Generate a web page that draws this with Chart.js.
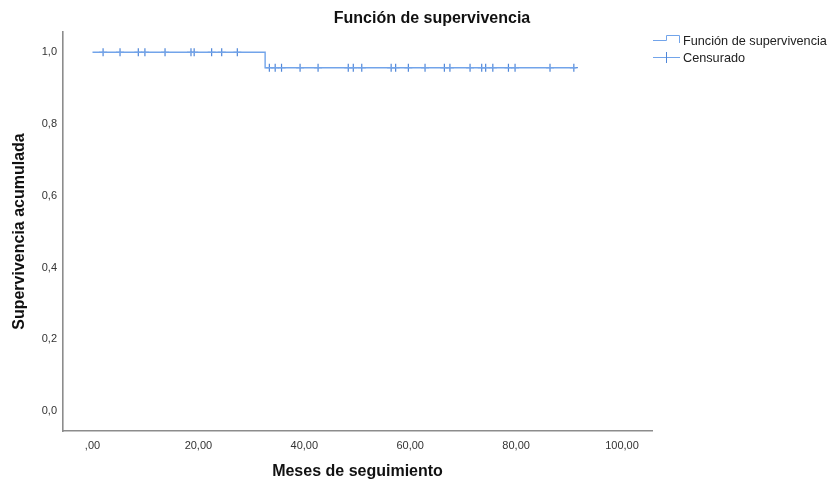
<!DOCTYPE html>
<html>
<head>
<meta charset="utf-8">
<script src="https://cdn.jsdelivr.net/npm/chart.js@4.4.1/dist/chart.umd.min.js"></script>
<style>
  html, body { margin: 0; padding: 0; background: #fff; }
  canvas { display: block; }
</style>
</head>
<body>
<canvas id="chart" width="832" height="483"></canvas>
<script>
// Kaplan-Meier step curve
const stepTimes = [0, 32.6, 91.4];
const stepSurvival = [1.0, 0.957, 0.957];

// censored cases
const censoredTop = [2.0, 5.2, 8.65, 9.9, 13.7, 18.6, 19.2, 22.5, 24.4, 27.35];
const censoredBottom = [33.4, 34.5, 35.7, 39.2, 42.6, 48.3, 49.25, 50.85, 56.4, 57.25,
  59.65, 62.8, 66.45, 67.5, 71.3, 73.5, 74.25, 75.6, 78.55, 79.8, 86.4, 90.9];

const xTicks = [0, 20, 40, 60, 80, 100];
const yTicks = [0, 0.2, 0.4, 0.6, 0.8, 1.0];

const lineColor = '#72a4ea';
const censorColor = '#4f86d8';
const font = "'Liberation Sans', Arial, sans-serif";

const survivalAt = (t) => {
  let s = stepSurvival[0];
  for (let i = 0; i < stepTimes.length; i++) if (t >= stepTimes[i]) s = stepSurvival[i];
  return s;
};

const stepData = stepTimes.map((t, i) => ({ x: t, y: stepSurvival[i] }));
const censorData = censoredTop.concat(censoredBottom).map(t => ({ x: t, y: survivalAt(t) }));

const decorPlugin = {
  id: 'decor',
  afterDraw(chart) {
    const ctx = chart.ctx;
    ctx.save();
    // title
    ctx.fillStyle = '#111';
    ctx.font = `bold 16px ${font}`;
    ctx.textAlign = 'center';
    ctx.textBaseline = 'middle';
    ctx.fillText('Función de supervivencia', 432, 19);

    // legend
    ctx.font = `12.7px ${font}`;
    ctx.textAlign = 'left';
    ctx.fillStyle = '#222';
    ctx.fillText('Función de supervivencia', 683, 41);
    ctx.fillText('Censurado', 683, 58);

    ctx.strokeStyle = lineColor;
    ctx.lineWidth = 1;
    ctx.beginPath();
    ctx.moveTo(653, 40.5);
    ctx.lineTo(666.5, 40.5);
    ctx.lineTo(666.5, 35.5);
    ctx.lineTo(679.5, 35.5);
    ctx.lineTo(679.5, 43);
    ctx.stroke();

    ctx.beginPath();
    ctx.moveTo(653, 57.5);
    ctx.lineTo(680, 57.5);
    ctx.stroke();
    ctx.strokeStyle = censorColor;
    ctx.beginPath();
    ctx.moveTo(666.5, 52);
    ctx.lineTo(666.5, 63);
    ctx.stroke();
    ctx.restore();
  }
};

new Chart(document.getElementById('chart'), {
  type: 'line',
  data: {
    datasets: [
      {
        label: 'Función de supervivencia',
        data: stepData,
        stepped: 'before',
        borderColor: lineColor,
        borderWidth: 1.4,
        pointRadius: 0,
        fill: false
      },
      {
        label: 'Censurado',
        type: 'scatter',
        data: censorData,
        pointStyle: 'cross',
        pointRadius: 4,
        borderColor: censorColor,
        borderWidth: 1.2,
        showLine: false
      }
    ]
  },
  options: {
    responsive: false,
    animation: false,
    layout: { padding: { top: 32, right: 180, left: 0, bottom: 0 } },
    plugins: {
      legend: { display: false },
      tooltip: { enabled: false },
      title: { display: false }
    },
    scales: {
      x: {
        type: 'linear',
        min: -5.57,
        max: 105.66,
        afterBuildTicks: (axis) => { axis.ticks = xTicks.map(v => ({ value: v })); },
        afterFit: (axis) => { axis.height = 52; },
        grid: { display: false, drawTicks: false },
        border: { color: '#8c8c8c', width: 1.6 },
        ticks: {
          padding: 8,
          color: '#333',
          font: { family: font, size: 11 },
          maxRotation: 0,
          callback: (v) => v === 0 ? ',00' : v.toFixed(2).replace('.', ',')
        },
        title: {
          display: true,
          text: 'Meses de seguimiento',
          color: '#111',
          font: { family: font, size: 16, weight: 'bold' },
          padding: { top: 8, bottom: 2 }
        }
      },
      y: {
        min: -0.0558,
        max: 1.0566,
        afterBuildTicks: (axis) => { axis.ticks = yTicks.map(v => ({ value: v })); },
        afterFit: (axis) => { axis.width = 63; },
        grid: { display: false, drawTicks: false },
        border: { color: '#8c8c8c', width: 1.6 },
        ticks: {
          padding: 6,
          color: '#333',
          font: { family: font, size: 11 },
          callback: (v) => v.toFixed(1).replace('.', ',')
        },
        title: {
          display: true,
          text: 'Supervivencia acumulada',
          color: '#111',
          font: { family: font, size: 16, weight: 'bold' },
          padding: { top: 10, bottom: 0 }
        }
      }
    }
  },
  plugins: [decorPlugin]
});
</script>
</body>
</html>
